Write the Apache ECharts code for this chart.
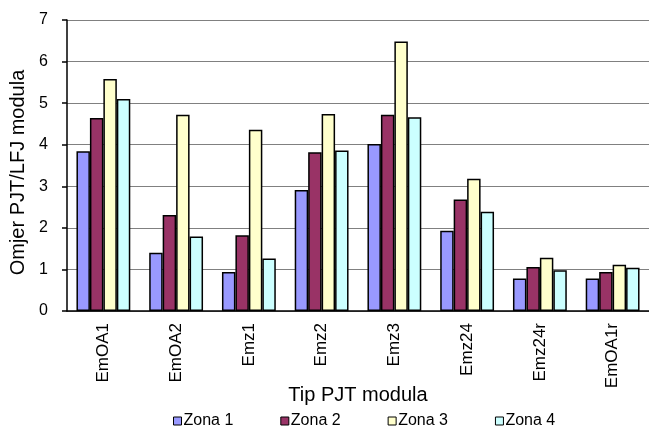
<!DOCTYPE html>
<html>
<head>
<meta charset="utf-8">
<script src="https://cdn.jsdelivr.net/npm/echarts@6/dist/echarts.min.js"></script>
<style>
  html, body { margin: 0; padding: 0; background: #fff; }
  #chart { width: 649px; height: 427px; }
</style>
</head>
<body>
<div id="chart"></div>
<script>
const categories = ["EmOA1", "EmOA2", "Emz1", "Emz2", "Emz3", "Emz24", "Emz24r", "EmOA1r"];
const zona1 = [3.84, 1.40, 0.94, 2.91, 4.02, 1.93, 0.78, 0.78];
const zona2 = [4.64, 2.31, 1.82, 3.82, 4.72, 2.68, 1.06, 0.94];
const zona3 = [5.58, 4.72, 4.36, 4.74, 6.48, 3.18, 1.28, 1.11];
const zona4 = [5.10, 1.79, 1.26, 3.86, 4.66, 2.39, 0.98, 1.04];
const seriesNames = ["Zona 1", "Zona 2", "Zona 3", "Zona 4"];
const colors = ["#9999ff", "#993366", "#ffffcc", "#ccffff"];

const FONT = "Liberation Sans";
const chart = echarts.init(document.getElementById("chart"), null, { renderer: "canvas" });

const bar = (name, data, color) => ({
  name, type: "bar", data, barGap: "0%", barCategoryGap: "26%",
  itemStyle: { color, borderColor: "#000", borderWidth: 1.5 },
});

chart.setOption({
  animation: false,
  textStyle: { fontFamily: FONT },
  grid: { left: 66, right: 0, top: 20, bottom: 116 },
  legend: {
    top: 408, left: 168,
    itemWidth: 8, itemHeight: 8, itemGap: 47,
    icon: "rect",
    itemStyle: { borderColor: "#000", borderWidth: 1 },
    textStyle: { fontFamily: FONT, fontSize: 16, color: "#000", padding: [0, 0, 0, -3] },
    data: seriesNames,
  },
  xAxis: {
    type: "category",
    data: categories,
    name: "Tip PJT modula",
    nameLocation: "middle",
    nameGap: 74,
    nameMoveOverlap: false,
    nameTextStyle: { fontFamily: FONT, fontSize: 20, color: "#000" },
    axisLine: { lineStyle: { color: "#000", width: 1.5 } },
    axisTick: { length: 5, lineStyle: { color: "#000", width: 1.5 } },
    axisLabel: { rotate: 90, margin: 12, fontFamily: FONT, fontSize: 17, color: "#000" },
  },
  yAxis: {
    type: "value",
    min: 0, max: 7, interval: 1,
    name: "Omjer PJT/LFJ modula",
    nameLocation: "middle",
    nameGap: 39,
    nameMoveOverlap: false,
    nameTextStyle: { fontFamily: FONT, fontSize: 20, color: "#000", padding: [0, 14, 0, 0] },
    axisLine: { show: true, lineStyle: { color: "#000", width: 1.5 } },
    axisTick: { show: true, length: 5, lineStyle: { color: "#000", width: 1.5 } },
    axisLabel: { margin: 19, fontFamily: FONT, fontSize: 16, color: "#000" },
    splitLine: { lineStyle: { color: "#808080", width: 1.2 } },
  },
  series: [
    bar(seriesNames[0], zona1, colors[0]),
    bar(seriesNames[1], zona2, colors[1]),
    bar(seriesNames[2], zona3, colors[2]),
    bar(seriesNames[3], zona4, colors[3]),
  ],
});
</script>
</body>
</html>
